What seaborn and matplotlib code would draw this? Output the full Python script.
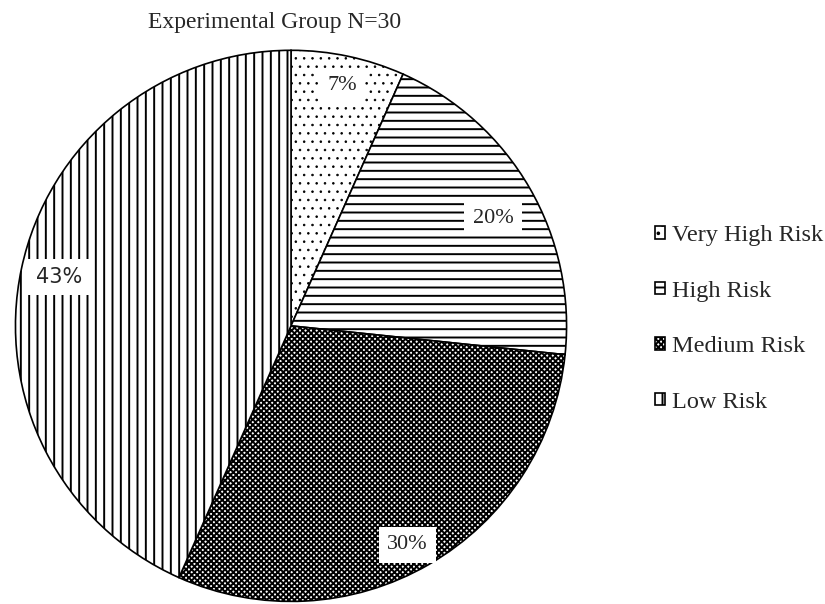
import numpy as np
import seaborn as sns
import matplotlib.pyplot as plt

# white background, serif text like the original Word chart
sns.set_style("white")
plt.rcParams['font.family'] = ['Liberation Serif', 'DejaVu Serif']
plt.rcParams['hatch.linewidth'] = 1.4
plt.rcParams['hatch.color'] = 'black'

# ==========================================
# data
# ==========================================
title = "Experimental Group N=30"
risk_levels = ['Very High Risk', 'High Risk', 'Medium Risk', 'Low Risk']
counts = [2, 6, 9, 13]
hatches = ['..', '--', 'xxxxxx', '||']

# label placement (radius as fraction of pie radius, small angle nudge in degrees)
label_radius = [0.89, 0.83, 0.90, 0.86]
label_nudge = [0, -2, -2, 0]

# ==========================================
# draw
# ==========================================
fig = plt.figure(figsize=(8.25, 6.04), dpi=100)
ax = fig.add_axes([0.017, 0.002, 0.6715, 0.917])

wedges, texts, autotexts = ax.pie(
    counts,
    startangle=90,
    counterclock=False,
    autopct='%1.0f%%',
    pctdistance=0.88,
    wedgeprops=dict(facecolor='white', edgecolor='black', linewidth=1.2),
    textprops=dict(fontsize=16),
)
ax.set_xlim(-1.005, 1.005)
ax.set_ylim(-1.005, 1.005)

for w, h in zip(wedges, hatches):
    w.set_hatch(h)
# smaller dots in the first slice
try:
    wedges[0].set_hatch_linewidth(0.6)
except AttributeError:
    pass

# move the percentages a little, with white boxes behind them
for w, t, r, d in zip(wedges, autotexts, label_radius, label_nudge):
    mid = np.deg2rad((w.theta1 + w.theta2) / 2 + d)
    t.set_position((r * np.cos(mid), r * np.sin(mid)))
    t.set_bbox(dict(facecolor='white', edgecolor='none', pad=6))
autotexts[3].set_family('DejaVu Sans')
autotexts[3].set_fontsize(15)

fig.text(0.333, 0.963, title, ha='center', va='center', fontsize=17)

ax.legend(
    wedges, risk_levels,
    loc='center left',
    bbox_to_anchor=(0.767, 0.472),
    bbox_transform=fig.transFigure,
    frameon=False,
    fontsize=17.5,
    handlelength=0.42,
    handleheight=0.42,
    handletextpad=0.3,
    labelspacing=1.42,
)

plt.savefig("out.png", dpi=100)
